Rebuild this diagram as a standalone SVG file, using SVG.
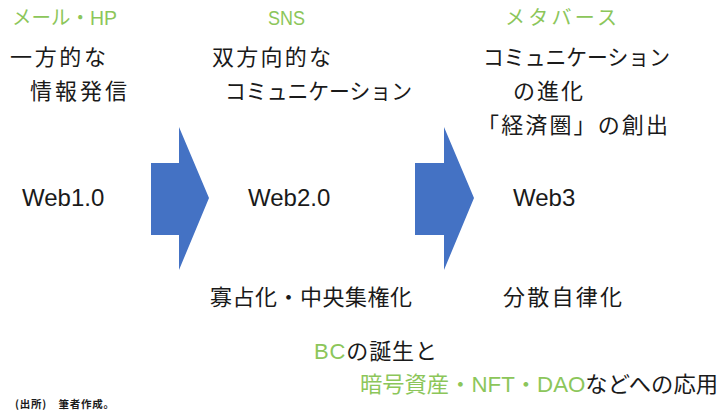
<svg xmlns="http://www.w3.org/2000/svg" width="722" height="414" viewBox="0 0 722 414">
<style>
text{font-family:"Noto Sans CJK JP","Noto Sans",sans-serif;fill:#1a1a1a}
.g{fill:#8cc65a;font-size:20px}
.t{font-size:22px}
.w{font-family:"Liberation Sans",Arial,sans-serif;font-size:24px}
.l{font-family:"Liberation Sans",Arial,sans-serif}
.gr{fill:#8cc65a}
.n{font-size:10.5px;font-weight:bold}
.arr{fill:#4472c4}
</style>
<rect width="722" height="414" fill="#fff"/>
<g id="connectors">
<polygon class="arr" points="151,163 179,163 179,127 209,198 179,270 179,235 151,235"/>
<polygon class="arr" points="415,163 444,163 444,127 474,198 444,270 444,235 415,235"/>
</g>
<g id="web1">
<text class="g" x="12" y="25" textLength="105" lengthAdjust="spacingAndGlyphs">メール・<tspan class="l">HP</tspan></text>
<text class="t" x="10" y="65" textLength="96">一方的な</text>
<text class="t" x="30" y="99" textLength="97">情報発信</text>
<text class="w" x="22" y="206">Web1.0</text>
</g>
<g id="web2">
<text class="g l" x="268" y="25" textLength="37" lengthAdjust="spacingAndGlyphs">SNS</text>
<text class="t" x="212" y="65" textLength="119">双方向的な</text>
<text class="t" x="225" y="99" textLength="187" lengthAdjust="spacingAndGlyphs">コミュニケーション</text>
<text class="w" x="248" y="206">Web2.0</text>
<text class="t" x="210" y="305" textLength="202">寡占化・中央集権化</text>
</g>
<g id="web3">
<text class="g" x="505" y="25" textLength="112">メタバース</text>
<text class="t" x="483" y="65" textLength="187" lengthAdjust="spacingAndGlyphs">コミュニケーション</text>
<text class="t" x="513" y="99" textLength="70">の進化</text>
<text class="t" x="477" y="133" textLength="191">「経済圏」の創出</text>
<text class="w" x="513" y="206">Web3</text>
<text class="t" x="503" y="305" textLength="119">分散自律化</text>
</g>
<g id="bc">
<text class="t" x="314" y="359" textLength="123"><tspan class="gr l">BC</tspan>の誕生と</text>
<text class="t" x="360" y="392" textLength="358" lengthAdjust="spacingAndGlyphs"><tspan class="gr">暗号資産・</tspan><tspan class="gr l">NFT</tspan><tspan class="gr">・</tspan><tspan class="gr l">DAO</tspan>などへの応用</text>
</g>
<text class="n" x="15" y="408" textLength="99">(出所)　筆者作成。</text>
</svg>
